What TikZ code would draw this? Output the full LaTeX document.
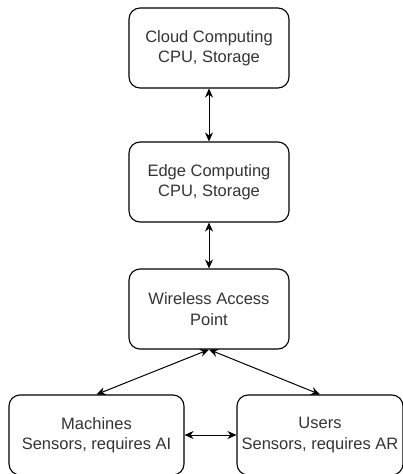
\documentclass[tikz,border=0pt]{standalone}
\usepackage{fontspec}
\setmainfont{Liberation Sans}
\usetikzlibrary{positioning,arrows.meta}
\definecolor{labelgray}{rgb}{0.2,0.2,0.2}
\tikzset{
  unit/.style={draw=black, rounded corners=11pt, line width=1.1pt,
    minimum width=160pt, minimum height=80pt, inner sep=0pt,
    align=center, text=labelgray, font=\fontsize{16.5}{20.5}\selectfont},
  link/.style={{Stealth[length=9pt,width=8pt]}-{Stealth[length=9pt,width=8pt]}, line width=1pt}
}

\begin{document}
\begin{tikzpicture}[x=1pt,y=-1pt]
    \useasboundingbox (0,0) rectangle (402,474);

    % Computing layers
    \node[unit] (cloud) at (209,48) {Cloud Computing\\CPU, Storage};
    \node[unit] (edge) at (209,182) {Edge Computing\\CPU, Storage};
    \node[unit] (wap) at (209,309) {Wireless Access\\Point};

    % Devices
    \node[unit, minimum width=175pt] (machines) at (96.5,435) {Machines\\Sensors, requires AI};
    \node[unit, minimum width=166pt] (users) at (320,435) {Users\\Sensors, requires AR};

    % Links
    \draw[link] (cloud) -- (edge);
    \draw[link] (edge) -- (wap);
    \draw[link] (wap.south) -- (machines.north);
    \draw[link] (wap.south) -- (users.north);
    \draw[link] (machines) -- (users);
\end{tikzpicture}
\end{document}
